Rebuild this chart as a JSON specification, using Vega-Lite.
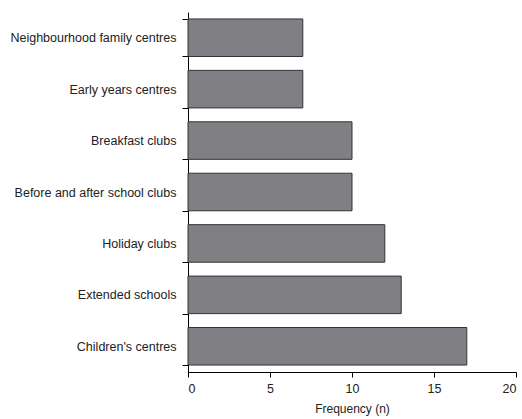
{
  "$schema": "https://vega.github.io/schema/vega-lite/v6.json",
  "width": 328,
  "height": 360,
  "autosize": "none",
  "padding": {"left": 188, "top": 12, "right": 6, "bottom": 47},
  "background": "white",
  "config": {
    "view": {"stroke": null},
    "font": "Liberation Sans",
    "axis": {"grid": false, "domainColor": "#000", "tickColor": "#000", "labelColor": "#222", "titleColor": "#222", "labelFont": "Liberation Sans", "titleFont": "Liberation Sans", "labelFontSize": 12.5, "titleFontSize": 12, "titleFontWeight": "normal"}
  },
  "data": {"values": [
    {"service": "Neighbourhood family centres", "n": 7},
    {"service": "Early years centres\u00a0", "n": 7},
    {"service": "Breakfast clubs", "n": 10},
    {"service": "Before and after school clubs", "n": 10},
    {"service": "Holiday clubs", "n": 12},
    {"service": "Extended schools", "n": 13},
    {"service": "Children's centres", "n": 17}
  ]},
  "mark": {"type": "bar", "fill": "#808084", "stroke": "#333", "strokeWidth": 1},
  "encoding": {
    "y": {"field": "service", "type": "nominal", "sort": null, "title": null,
      "scale": {"paddingInner": 0.27, "paddingOuter": 0.135},
      "axis": {"tickBand": "extent", "tickSize": 6, "labelPadding": 6, "labelLimit": 200}},
    "x": {"field": "n", "type": "quantitative", "title": "Frequency (n)",
      "scale": {"domain": [0, 20], "nice": false},
      "axis": {"values": [0, 5, 10, 15, 20], "tickSize": 5, "labelPadding": 5, "titlePadding": 9}}
  }
}
